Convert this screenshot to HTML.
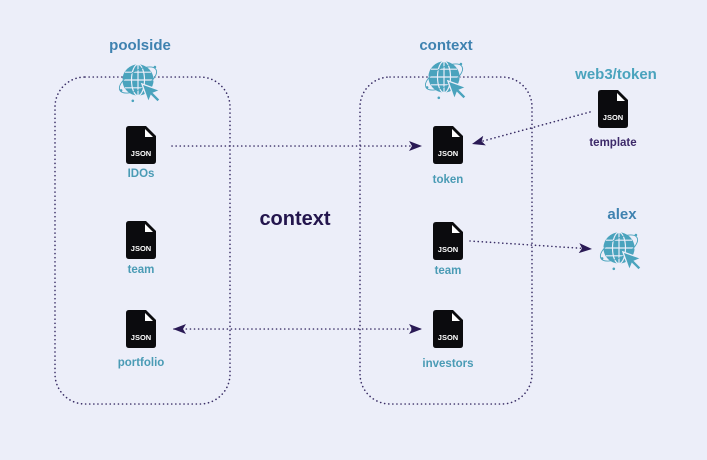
<!DOCTYPE html>
<html><head><meta charset="utf-8"><style>
html,body{margin:0;padding:0;background:#eceef9;}
svg{display:block}
text{font-family:"Liberation Sans",sans-serif;font-weight:bold;text-anchor:middle}
</style></head><body>
<svg width="707" height="460" viewBox="0 0 707 460" xmlns="http://www.w3.org/2000/svg">
<defs>
<marker id="ah" markerWidth="14" markerHeight="10" refX="13" refY="5" orient="auto" markerUnits="userSpaceOnUse">
<path d="M0,0 L13,5 L0,10 L3,5 Z" fill="#2a1a55"/></marker>
<marker id="as" markerWidth="14" markerHeight="10" refX="1" refY="5" orient="auto" markerUnits="userSpaceOnUse">
<path d="M13,0 L0,5 L13,10 L10,5 Z" fill="#2a1a55"/></marker>
<g id="json">
<path d="M3,0 H20 L30,10 V35 Q30,38 27,38 H3 Q0,38 0,35 V3 Q0,0 3,0 Z" fill="#0b0b0e"/>
<path d="M19,3 L27,11 H19 Z" fill="#ffffff"/>
<text x="15" y="30" font-size="7.5" fill="#ffffff">JSON</text>
</g>
<g id="globe">
<circle cx="0" cy="0" r="12" fill="#4aa3bd"/>
<g stroke="#eceef9" stroke-width="0.9" fill="none">
<ellipse cx="0" cy="0" rx="5" ry="12"/>
<line x1="-12" y1="0" x2="12" y2="0"/>
<line x1="-10" y1="-6" x2="10" y2="-6"/>
<line x1="-10" y1="6" x2="10" y2="6"/>
<line x1="0" y1="-12" x2="0" y2="12"/>
</g>
<ellipse cx="0" cy="0" rx="16" ry="7" transform="rotate(-30)" stroke="#4aa3bd" stroke-width="0.7" fill="none"/>
<path d="M3,3 L17,8 L12,10 L17,15 L15,17 L10,12 L8,17 Z" fill="#4aa3bd" stroke="#eceef9" stroke-width="1"/>
<circle cx="-13" cy="8" r="1" fill="#4aa3bd"/><circle cx="13" cy="-10" r="1" fill="#4aa3bd"/><circle cx="-4" cy="16" r="1" fill="#4aa3bd"/>
</g>
</defs>
<g fill="none" stroke="#3a2e66" stroke-width="1.6" stroke-dasharray="0.1 4" stroke-linecap="round">
<rect x="55" y="77" width="175" height="327" rx="30"/>
<rect x="360" y="77" width="172" height="327" rx="30"/>
<line x1="172" y1="146" x2="422" y2="146" marker-end="url(#ah)"/>
<line x1="590" y1="112" x2="472" y2="144" marker-end="url(#ah)"/>
<line x1="470" y1="241" x2="592" y2="249" marker-end="url(#ah)"/>
<line x1="174" y1="329" x2="422" y2="329" marker-start="url(#as)" marker-end="url(#ah)"/>
</g>
<text x="140" y="50" font-size="15" fill="#3f82b0">poolside</text>
<text x="446" y="50" font-size="15" fill="#3f82b0">context</text>
<text x="616" y="79" font-size="15" fill="#4aa3bd">web3/token</text>
<text x="622" y="219" font-size="15" fill="#3f82b0">alex</text>
<use href="#globe" transform="translate(138,80) scale(1.3)"/>
<use href="#globe" transform="translate(444,77) scale(1.3)"/>
<use href="#globe" transform="translate(619,248) scale(1.3)"/>
<use href="#json" x="126" y="126"/>
<use href="#json" x="126" y="221"/>
<use href="#json" x="126" y="310"/>
<use href="#json" x="433" y="126"/>
<use href="#json" x="433" y="222"/>
<use href="#json" x="433" y="310"/>
<use href="#json" x="598" y="90"/>
<g font-size="11.5" fill="#4a9bb5">
<text x="141" y="177">IDOs</text>
<text x="141" y="273">team</text>
<text x="141" y="366">portfolio</text>
<text x="448" y="183">token</text>
<text x="448" y="274">team</text>
<text x="448" y="367">investors</text>
</g>
<text x="613" y="146" font-size="11.5" fill="#3d2a6a">template</text>
<text x="295" y="225" font-size="20" fill="#23154d">context</text>
</svg>
</body></html>
